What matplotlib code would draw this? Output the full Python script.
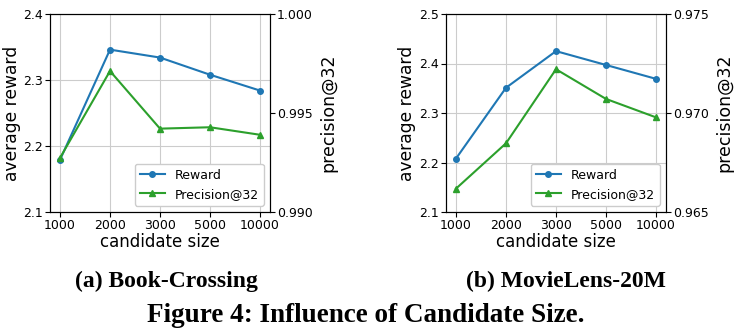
import numpy as np
import matplotlib.pyplot as plt

# candidate sizes on the x axis (categorical)
sizes = ["1000", "2000", "3000", "5000", "10000"]

# (a) Book-Crossing
bc_reward = [2.179, 2.346, 2.334, 2.308, 2.284]
bc_precision = [0.99273, 0.99712, 0.99421, 0.99428, 0.99390]

# (b) MovieLens-20M
ml_reward = [2.208, 2.351, 2.425, 2.397, 2.369]
ml_precision = [0.96618, 0.96847, 0.97221, 0.97071, 0.96978]

panels = [
    ("(a) Book-Crossing", bc_reward, bc_precision, (2.1, 2.4), [2.1, 2.2, 2.3, 2.4],
     (0.990, 1.000), [0.990, 0.995, 1.000]),
    ("(b) MovieLens-20M", ml_reward, ml_precision, (2.1, 2.5), [2.1, 2.2, 2.3, 2.4, 2.5],
     (0.965, 0.975), [0.965, 0.970, 0.975]),
]

W, H = 738, 336
fig = plt.figure(figsize=(W / 100, H / 100), dpi=100)
lefts = [50, 446]
cap_x = [166, 566]

for left, cx, (cap, rew, prec, ylim, yt, ylim2, yt2) in zip(lefts, cap_x, panels):
    ax = fig.add_axes([left / W, 1 - 212 / H, 220 / W, 198 / H])
    x = np.arange(len(sizes))
    l1, = ax.plot(x, rew, color="tab:blue", marker="o", markersize=4, lw=1.5)
    ax.set_ylim(*ylim)
    ax.set_yticks(yt)
    ax.set_xticks(x)
    ax.set_xticklabels(sizes)
    ax.grid(True, color="#cccccc", lw=0.8)
    ax.tick_params(labelsize=9, pad=1.5)
    ax.set_xlabel("candidate size", fontsize=12, labelpad=1)
    ax.set_ylabel("average reward", fontsize=12.3, labelpad=2)

    ax2 = ax.twinx()
    l2, = ax2.plot(x, prec, color="tab:green", marker="^", markersize=4, lw=1.5)
    ax2.set_ylim(*ylim2)
    ax2.set_yticks(yt2)
    ax2.set_yticklabels(["%.3f" % v for v in yt2])
    ax2.tick_params(labelsize=9, pad=1.5)
    ax2.set_ylabel("precision@32", fontsize=12.5, labelpad=5)
    ax2.legend([l1, l2], ["Reward", "Precision@32"], loc="lower right", fontsize=9,
               framealpha=1.0)

    fig.text(cx / W, 1 - 281 / H, cap, ha="center", va="center",
             family="Liberation Serif", weight="bold", fontsize=17)

fig.text(366 / W, 1 - 315 / H, "Figure 4: Influence of Candidate Size.", ha="center", va="center",
         family="Liberation Serif", weight="bold", fontsize=19.5)

fig.savefig("out.png", dpi=100)
